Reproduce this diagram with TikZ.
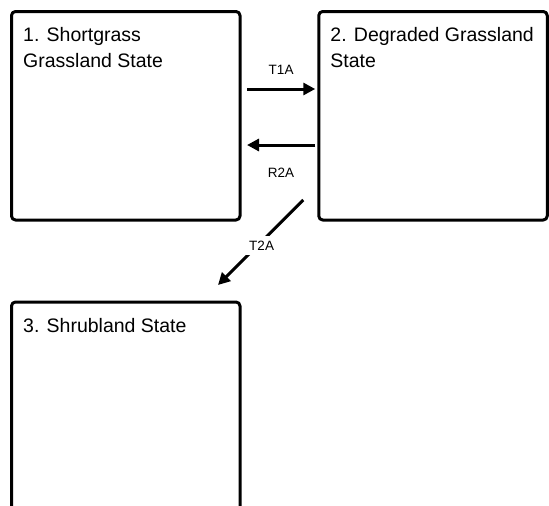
\documentclass[tikz,border=0pt]{standalone}
\usepackage{fontspec}
\setmainfont{Liberation Sans}
\usetikzlibrary{arrows.meta,positioning}
\tikzset{
    statebox/.style={draw, line width=3pt, rounded corners=4pt, outer sep=0pt, inner sep=0pt,
        minimum width=228.5pt, minimum height=208.5pt},
    statename/.style={anchor=north west, align=left, inner sep=0pt,
        font=\fontsize{19.5}{26}\selectfont},
    trans/.style={line width=3pt, -{Triangle[length=12pt, width=12pt]}},
    translabel/.style={font=\fontsize{13.5}{16}\selectfont, inner sep=2pt}
}
\begin{document}
\begin{tikzpicture}[x=1pt, y=-1pt, line join=round]
            \useasboundingbox (0,0) rectangle (549,506);
            \clip (0,0) rectangle (549,506);
            % states
            \node[statebox] (S1) at (125.75,115.75) {};
            \node[statebox] (S2) at (433,115.75) {};
            \node[statebox] (S3) at (125.75,406.25) {};
            \node[statename] (N1) at ([shift={(11.5,16)}]S1.north west) {1. Shortgrass\\Grassland State};
            \node[statename] (N2) at ([shift={(11.5,16)}]S2.north west) {2. Degraded Grassland\\State};
            \node[statename] (N3) at ([shift={(11.5,16)}]S3.north west) {3. Shrubland State};
            % arrow ends
            \path
            ([shift={(7,-26.75)}]S1.east) coordinate (T1Aa)
            ([shift={(-3.5,-26.75)}]S2.west) coordinate (T1Ab)
            ([shift={(-3.5,29.25)}]S2.west) coordinate (R2Aa)
            ([shift={(7,29.25)}]S1.east) coordinate (R2Ab)
            ([shift={(-15.5,-20)}]S2.south west) coordinate (T2Aa)
            ([shift={(-22,-17)}]S3.north east) coordinate (T2Ab)
            ;
            \draw[trans] (T1Aa) -- (T1Ab) node[translabel, midway, shift={(0,-19)}] (L1) {T1A};
            \draw[trans] (R2Aa) -- (R2Ab) node[translabel, midway, shift={(0,28)}] (L2) {R2A};
            \draw[trans] (T2Aa) -- (T2Ab) node[translabel, midway, fill=white, inner sep=5pt, shift={(1,3)}] (L3) {T2A};
\end{tikzpicture}
\end{document}
